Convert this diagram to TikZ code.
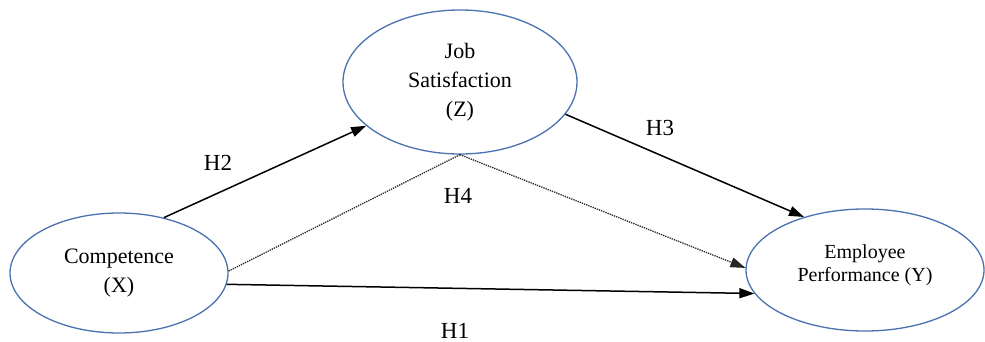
\documentclass[tikz,border=0pt]{standalone}
\usepackage{fontspec}
\setmainfont{Liberation Serif}
\usetikzlibrary{arrows.meta, shapes.geometric}

\definecolor{ovalblue}{HTML}{4A72B0}

\begin{document}
\begin{tikzpicture}[
    x=1pt, y=-1pt,
    var/.style={ellipse, draw=ovalblue, line width=1.3pt, inner sep=0pt, align=center,
                font=\fontsize{22}{29}\selectfont},
    hyp/.style={-{Triangle[length=15pt, width=10pt]}, line width=1.5pt},
    ind/.style={densely dotted, line width=1.3pt, draw=black!85},
    lbl/.style={font=\fontsize{23}{27}\selectfont}
]
\useasboundingbox (0,0) rectangle (985,342);
\node[var, minimum width=218pt, minimum height=120pt] (comp) at (119,273) {Competence\\(X)};
\node[var, minimum width=234pt, minimum height=144pt] (job) at (460,82) {Job\\Satisfaction\\(Z)};
\node[var, minimum width=238pt, minimum height=122pt, text depth=14pt,
      font=\fontsize{20}{23}\selectfont] (perf) at (865,270) {Employee\\Performance (Y)};
\draw[hyp] (comp.51) -- (job.205);
\draw[hyp] (job.-17) -- (perf.139);
\draw[ind] (comp.1.5) -- (job.south);
\draw[ind, -{Triangle[length=15pt, width=10pt]}] (job.south) -- (perf.179);
\draw[hyp] (comp.-6) -- (perf.192);
\node[lbl] (h2) at (218,163) {H2};
\node[lbl] (h3) at (660,128) {H3};
\node[lbl] (h4) at (458,196) {H4};
\node[lbl] (h1) at (455,331) {H1};
\end{tikzpicture}
\end{document}
